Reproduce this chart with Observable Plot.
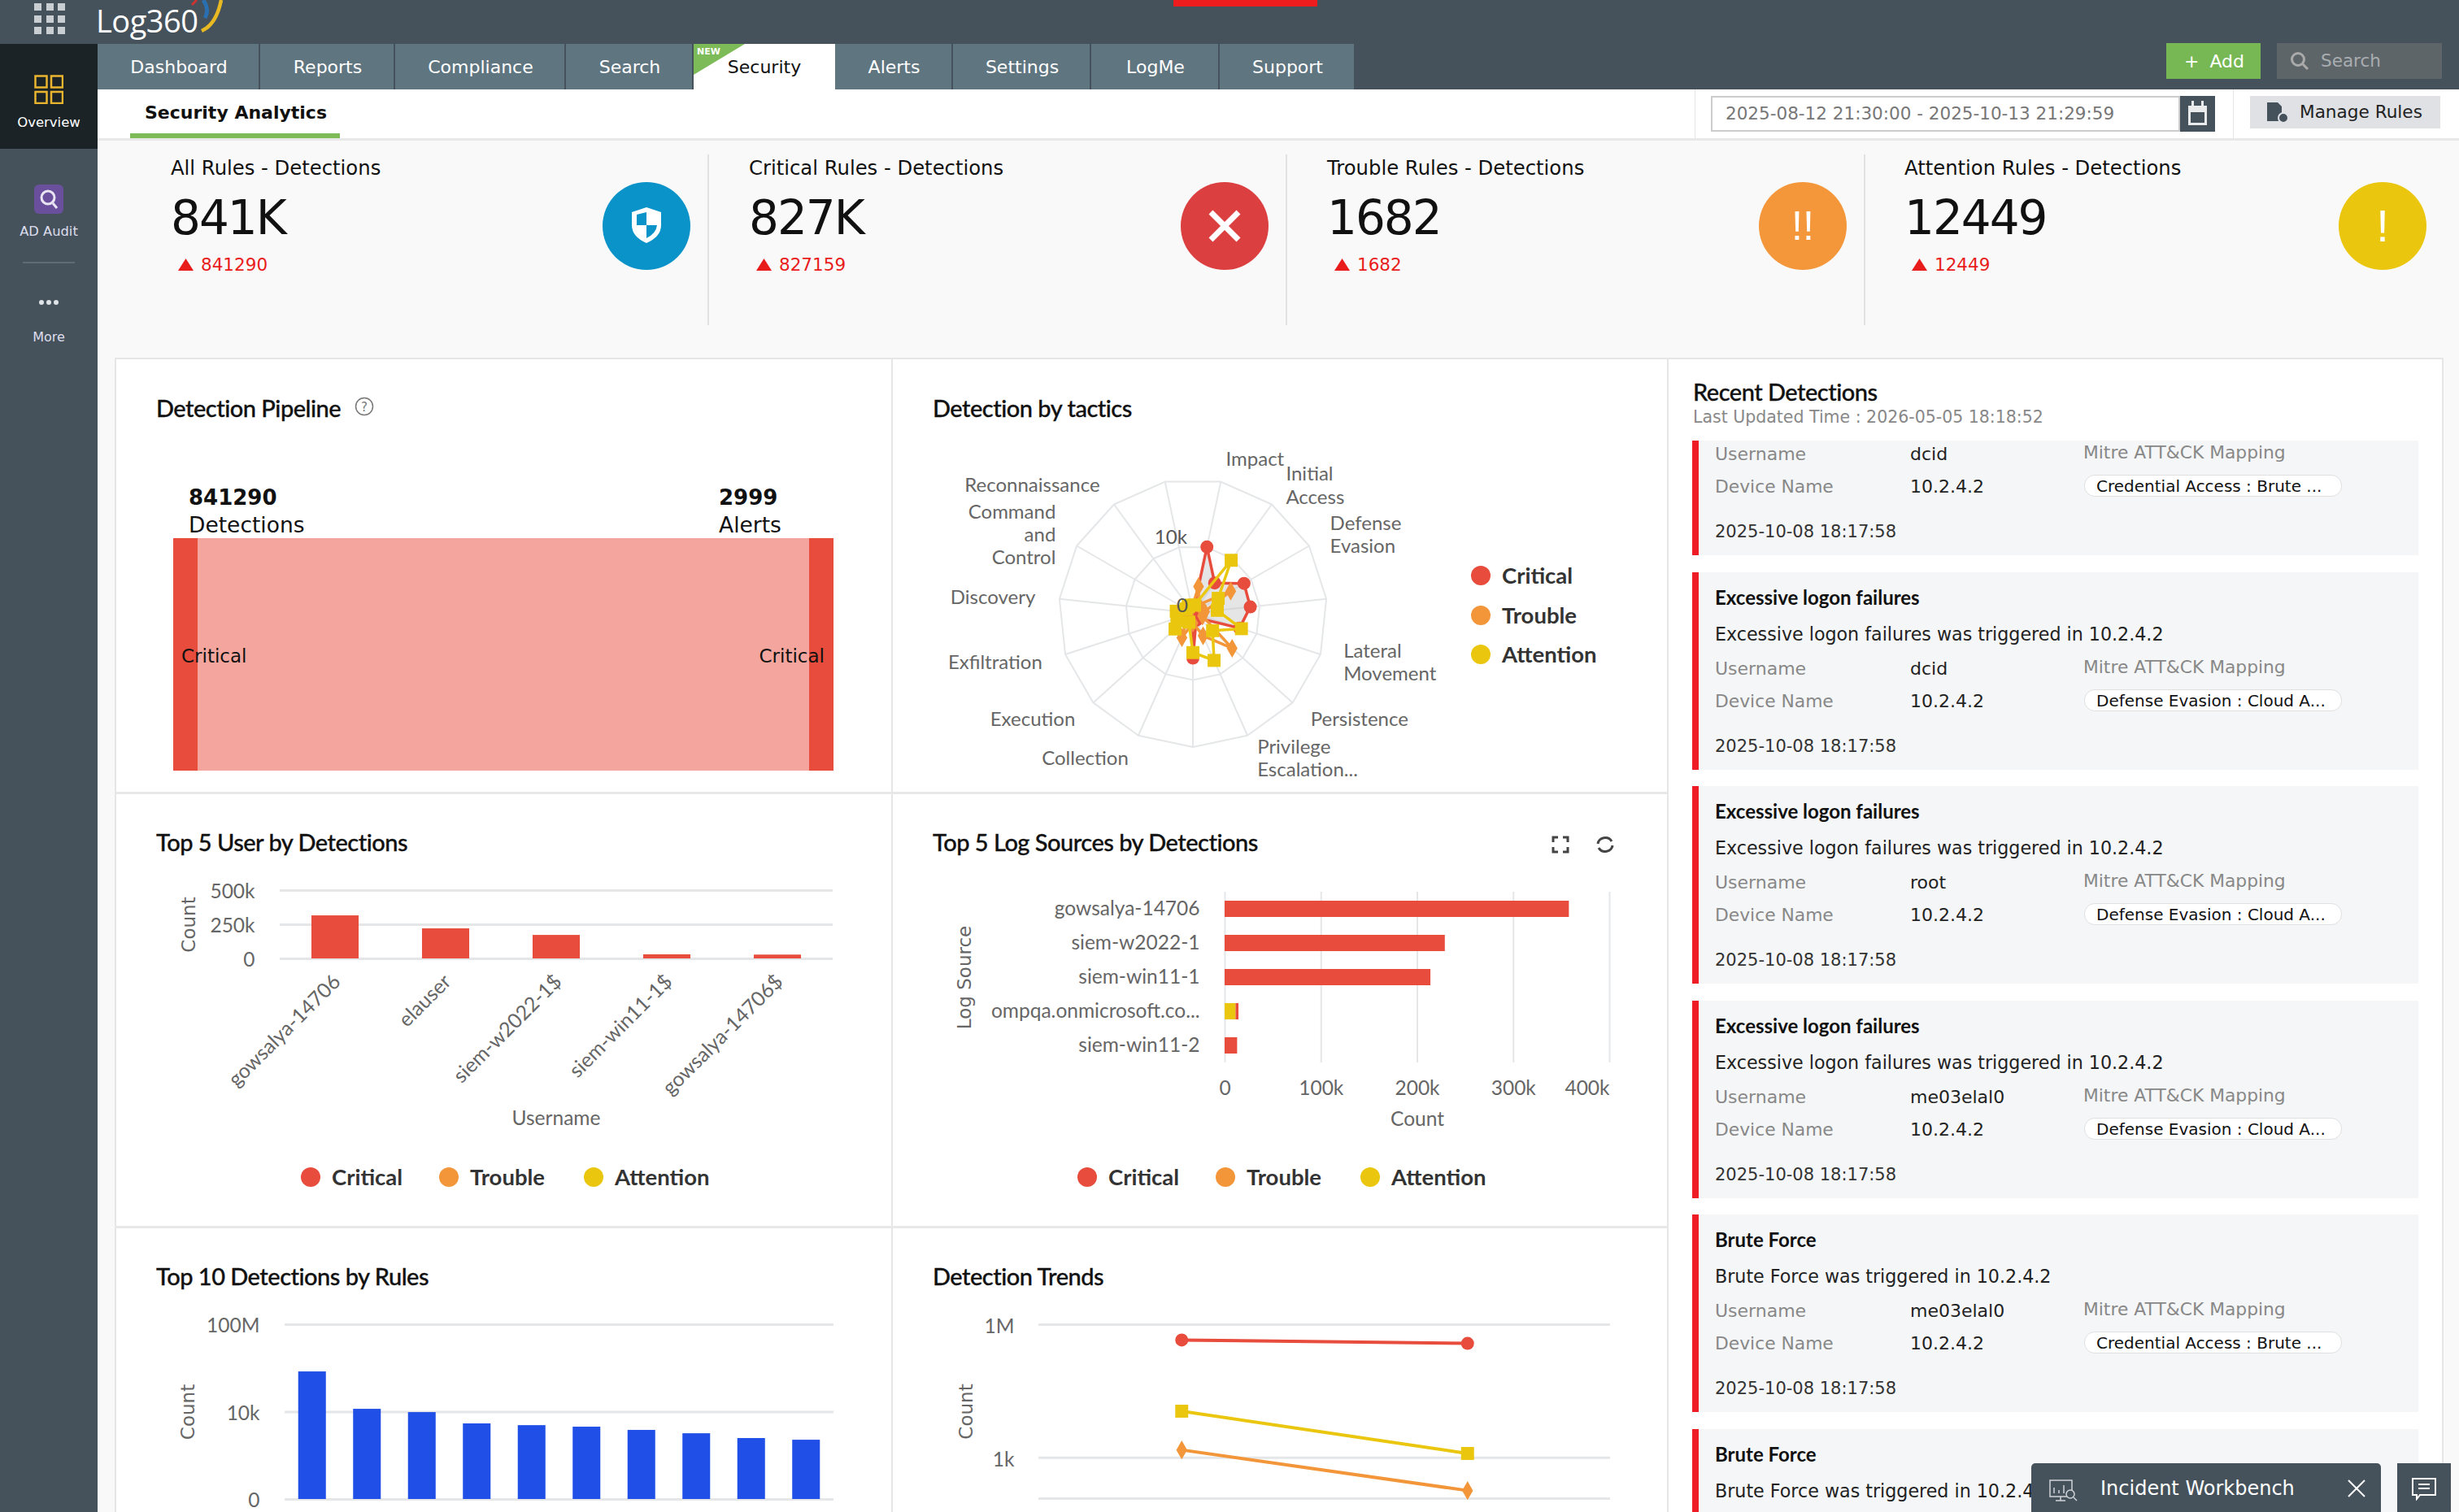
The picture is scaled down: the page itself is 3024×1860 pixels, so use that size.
<!DOCTYPE html>
<html><head><meta charset="utf-8">
<script src="https://cdn.jsdelivr.net/npm/d3@7"></script>
<script src="https://cdn.jsdelivr.net/npm/@observablehq/plot@0.6"></script>
<style>
html,body{margin:0;padding:0;background:#f9f9f9}
#page{position:relative;width:3024px;height:1860px;overflow:hidden;background:#f9f9f9;font-family:"DejaVu Sans",sans-serif}
#page>*{position:absolute}
.t{white-space:nowrap;transform:translateY(-50%);line-height:1}
.title{font-family:Lato,sans-serif;font-size:29px;font-weight:500;color:#111;letter-spacing:-.5px;-webkit-text-stroke:.3px #111}
.leg{font-family:Lato,sans-serif;font-size:27.5px;font-weight:700;color:#333}
svg{background:none}
</style></head><body><div id="page"></div>
<script>
// ---------- data ----------
const severities = ["Critical", "Trouble", "Attention"];
const severityColors = ["#e74c3c", "#f39539", "#eac70e"];

const pipelineStages = ["Detections", "Alerts"];
const pipelineCounts = [841290, 2999];

const tacticLabels = ["Impact", "Initial\nAccess", "Defense\nEvasion", "", "Lateral\nMovement", "Persistence", "Privilege\nEscalation...", "", "Collection", "Execution", "Exfiltration", "Discovery", "Command\nand\nControl", "Reconnaissance", ""];
const tacticCritical = [10500, 160, 3300, 2750, 840, 2, 2, 490, 0, 0, 0, 0, 0, 0, 0];
const tacticTrouble = [40, 3, 400, 4, 3, 1400, 30, 3, 40, 2, 1, 1, 1, 1, 1];
const tacticAttention = [2, 7600, 54, 28, 1100, 37, 1260, 230, 3, 26, 9, 9, 2, 2, 2];
const radarRings = [10000, 100000000];

const users = ["gowsalya-14706", "elauser", "siem-w2022-1$", "siem-win11-1$", "gowsalya-14706$"];
const userCritical = [315000, 220000, 172000, 30000, 28000];

const logSources = ["gowsalya-14706", "siem-w2022-1", "siem-win11-1", "ompqa.onmicrosoft.co...", "siem-win11-2"];
const sourceCritical = [358000, 229000, 214000, 3000, 13000];
const sourceAttention = [0, 0, 0, 11400, 0];

const ruleRanks = ["Rule 1", "Rule 2", "Rule 3", "Rule 4", "Rule 5", "Rule 6", "Rule 7", "Rule 8", "Rule 9", "Rule 10"];
const ruleCounts = [690000, 13400, 9500, 2880, 2400, 2040, 1450, 1020, 615, 515];

const trendDates = ["2025-09", "2025-10"];
const trendCritical = [450000, 377159];
const trendTrouble = [1500, 182];
const trendAttention = [11200, 1249];

const kpiTitles = ["All Rules - Detections", "Critical Rules - Detections", "Trouble Rules - Detections", "Attention Rules - Detections"];
const kpiBig = ["841K", "827K", "1682", "12449"];
const kpiSmall = ["841290", "827159", "1682", "12449"];
const tabs = ["Dashboard", "Reports", "Compliance", "Search", "Security", "Alerts", "Settings", "LogMe", "Support"];

const cardTitles = ["", "Excessive logon failures", "Excessive logon failures", "Excessive logon failures", "Brute Force", "Brute Force"];
const cardUsers = ["dcid", "dcid", "root", "me03elal0", "me03elal0", ""];
const cardPills = ["Credential Access : Brute ...", "Defense Evasion : Cloud A...", "Defense Evasion : Cloud A...", "Defense Evasion : Cloud A...", "Credential Access : Brute ...", ""];

// ---------- helpers ----------
const page = document.getElementById("page");
function box(x, y, w, h, style = "", html = "") {
  const d = document.createElement("div");
  d.style.cssText = `left:${x}px;top:${y}px;width:${w}px;height:${h}px;${style}`;
  d.innerHTML = html;
  page.appendChild(d);
  return d;
}
function txt(x, y, s, style = "", cls = "t") {
  const d = document.createElement("div");
  d.className = cls.includes("t") ? cls + " t" : "t " + cls;
  d.style.cssText = `left:${x}px;top:${y}px;${style}`;
  d.textContent = s;
  page.appendChild(d);
  return d;
}
function place(svg, x, y) {
  svg.style.position = "absolute";
  svg.style.left = x + "px";
  svg.style.top = y + "px";
  svg.style.overflow = "visible";
  svg.style.maxWidth = "none";
  page.appendChild(svg);
}
const FONT = "Lato, sans-serif";
const GRID = "#e4e6e8";
const TICK = "#666";
const base = {style: {background: "none", fontFamily: FONT, fontSize: "24.5px", overflow: "visible"}};
function sideLabel(s, dx) {
  return Plot.text([s], {frameAnchor: "left", textAnchor: "middle", rotate: -90, dx, text: d => d, fontFamily: "DejaVu Sans", fontSize: 23, fill: "#666"});
}

// ---------- chrome ----------
box(0, 0, 3024, 110, "background:#46525b");
box(0, 0, 120, 1860, "background:#46525b");
box(0, 54, 120, 129, "background:#1c2327");
box(1443, 0, 177, 8, "background:#ee1c1c");

// waffle
[0, 1, 2].forEach(r => [0, 1, 2].forEach(c => box(42 + c * 14.5, 4 + r * 14.5, 9, 9, "background:#c9ced2")));
txt(118, 25, "Log360", "font-family:'Open Sans';font-size:38px;color:#fff;letter-spacing:-.5px");
box(212, 0, 64, 42, "", `<svg width="64" height="42" style="overflow:visible"><path d="M38 0 Q46 12 40 22" stroke="#2a6fb0" stroke-width="5" fill="none"/><path d="M24 6 L30 0" stroke="#c33" stroke-width="3"/><path d="M36 38 Q54 30 60 0" stroke="#e8b923" stroke-width="4.5" fill="none"/></svg>`);

// tabs
const tabEdges = [120, 320, 486, 696, 853, 1027, 1172, 1342, 1500, 1667];
tabs.forEach((name, i) => {
  const active = name === "Security";
  box(tabEdges[i], 54, tabEdges[i + 1] - tabEdges[i] - (active ? 0 : 2), 56, `background:${active ? "#fff" : "#5f7580"}`);
  const cx = (tabEdges[i] + tabEdges[i + 1]) / 2;
  const d = txt(cx, 83, name, `font-size:22px;color:${active ? "#111" : "#fff"}`);
  d.style.transform = "translate(-50%,-50%)";
});
box(853, 54, 63, 38, "background:#7cbb57;clip-path:polygon(0 0,100% 0,0 100%)");
txt(857, 63, "NEW", "font-size:11px;font-weight:700;color:#fff");

box(2664, 53, 116, 44, "background:#78b854");
txt(2686, 76, "+ Add", "font-size:22px;color:#fff;word-spacing:6px");
box(2800, 53, 203, 44, "background:#5d6569");
box(2816, 63, 24, 24, "", `<svg width="24" height="24"><circle cx="10" cy="10" r="7.5" fill="none" stroke="#aaa" stroke-width="3"/><path d="M15 15 L22 22" stroke="#aaa" stroke-width="3"/></svg>`);
txt(2854, 75, "Search", "font-size:21.5px;color:#a9adb0");

// sidebar
box(42, 92, 36, 36, "", `<svg width="36" height="36" fill="none" stroke="#e9b52f" stroke-width="2.5"><rect x="1.5" y="1.5" width="14" height="14"/><rect x="21" y="1.5" width="14" height="14"/><rect x="1.5" y="21" width="14" height="14"/><rect x="21" y="21" width="14" height="14"/></svg>`);
let s = txt(60, 151, "Overview", "font-size:16.5px;color:#fff"); s.style.transform = "translate(-50%,-50%)";
box(42, 227, 36, 36, "background:#6a4f9c;border-radius:6px", `<svg width="36" height="36" fill="none" stroke="#e8e4f2" stroke-width="3"><circle cx="17" cy="16" r="8"/><path d="M23 23 L28 29"/></svg>`);
s = txt(60, 285, "AD Audit", "font-size:16.3px;color:#dde"); s.style.transform = "translate(-50%,-50%)";
box(28, 322, 64, 2, "background:#5f6a72");
[0, 1, 2].forEach(i => box(48 + i * 9, 369, 6, 6, "background:#dfe3e6;border-radius:50%"));
s = txt(60, 415, "More", "font-size:16px;color:#dde"); s.style.transform = "translate(-50%,-50%)";

// sub bar
box(120, 110, 2904, 60, "background:#fff");
box(120, 170, 2904, 3, "background:#e8e8e8");
txt(178, 139, "Security Analytics", "font-size:22px;font-weight:700;color:#111");
box(160, 164, 258, 6, "background:#7cbb57");
box(2084, 110, 1, 60, "background:#e6e6e6");
box(2746, 110, 1, 60, "background:#e6e6e6");
box(2104, 118, 577, 44, "background:#fff;box-sizing:border-box;border:2px solid #ccc");
txt(2122, 140, "2025-08-12 21:30:00 - 2025-10-13 21:29:59", "font-size:21.5px;color:#777");
box(2681, 118, 43, 44, "background:#46525b", `<svg width="43" height="44"><rect x="10" y="12" width="23" height="24" fill="#e8eaec"/><rect x="13" y="20" width="17" height="13" fill="#46525b"/><rect x="14" y="6" width="3" height="9" fill="#e8eaec"/><rect x="26" y="6" width="3" height="9" fill="#e8eaec"/></svg>`);
box(2767, 118, 234, 40, "background:#dfe1e4");
box(2788, 126, 28, 26, "", `<svg width="28" height="26"><path d="M0 0H13L18 5V23H0Z" fill="#46525b"/><circle cx="20" cy="19" r="6" fill="#46525b" stroke="#dfe1e4" stroke-width="2"/></svg>`);
txt(2828, 138, "Manage Rules", "font-size:21.6px;color:#222");

// KPI row
const kpiX = [210, 921, 1632, 2342], kpiC = [795, 1506, 2217, 2930];
const kpiFill = ["#0a93c9", "#dc3f3f", "#f4973b", "#ebc60f"];
[870, 1581, 2292].forEach(x => box(x, 190, 2, 210, "background:#e2e2e2"));
kpiTitles.forEach((k, i) => {
  txt(kpiX[i], 207, k, "font-size:24.3px;color:#111");
  txt(kpiX[i], 268, kpiBig[i], "font-size:58px;color:#111;letter-spacing:-2px");
  box(kpiX[i] + 9, 318, 19, 15, "background:#e91c1c;clip-path:polygon(50% 0,100% 100%,0 100%)");
  txt(kpiX[i] + 37, 326, kpiSmall[i], "font-size:21.5px;color:#e91c1c");
  box(kpiC[i] - 54, 224, 108, 108, `background:${kpiFill[i]};border-radius:50%`);
});
box(795 - 18, 255, 36, 44, "", `<svg width="36" height="44"><path d="M18 0 L36 6 V22 Q36 36 18 44 Q0 36 0 22 V6Z" fill="#fff"/><path d="M18 6V22H6V9Z M18 22H31Q30 32 18 38Z" fill="#0a93c9"/></svg>`);
box(1506 - 20, 258, 40, 40, "", `<svg width="40" height="40"><path d="M3 3 L37 37 M37 3 L3 37" stroke="#fff" stroke-width="7"/></svg>`);
s = txt(2217, 278, "!!", "font-size:50px;color:#fff;font-family:'Liberation Sans'"); s.style.transform = "translate(-50%,-50%)";
s = txt(2930, 278, "!", "font-size:56px;color:#fff;font-family:'Liberation Sans'"); s.style.transform = "translate(-50%,-50%)";

// panels
box(141, 440, 2864, 1430, "background:#fff;box-sizing:border-box;border:2px solid #e6e6e6");
box(1096, 440, 2, 1420, "background:#e6e6e6");
box(2050, 440, 2, 1420, "background:#e6e6e6");
box(141, 974, 1910, 3, "background:#e8e8e8");
box(141, 1508, 1910, 3, "background:#e8e8e8");

[["Detection Pipeline", 192, 501], ["Detection by tactics", 1147, 501], ["Top 5 User by Detections", 192, 1035], ["Top 5 Log Sources by Detections", 1147, 1035], ["Top 10 Detections by Rules", 192, 1569], ["Detection Trends", 1147, 1569], ["Recent Detections", 2082, 481]]
  .forEach(([a, x, y]) => txt(x, y, a, "", "title"));
box(436, 488, 24, 24, "", `<svg width="24" height="24"><circle cx="12" cy="12" r="10.5" fill="none" stroke="#777" stroke-width="1.5"/><text x="12" y="17.5" font-size="15" text-anchor="middle" fill="#777">?</text></svg>`);
box(1908, 1028, 22, 22, "", `<svg width="22" height="22" fill="none" stroke="#444" stroke-width="3"><path d="M2 8V2H8M14 2H20V8M20 14V20H14M8 20H2V14"/></svg>`);
box(1962, 1028, 24, 22, "", `<svg width="24" height="22" fill="none" stroke="#444" stroke-width="3"><path d="M3 10A9 8 0 0 1 20 7M21 12A9 8 0 0 1 4 15"/></svg>`);

function legend(xs, y) {
  severities.forEach((name, i) => {
    box(xs[i] - 12, y - 12, 24, 24, `background:${severityColors[i]};border-radius:50%`);
    txt(xs[i] + 26, y, name, "", "leg");
  });
}
legend([382, 552, 730], 1448);
legend([1337, 1507, 1685], 1448);
severities.forEach((name, i) => {
  box(1809, 708 + i * 48.5 - 12, 24, 24, `background:${severityColors[i]};border-radius:50%`);
  txt(1847, 708 + i * 48.5, name, "", "leg");
});

// Recent detections
txt(2082, 513, "Last Updated Time : 2026-05-05 18:18:52", "font-size:20.5px;color:#888");
const clip = box(2060, 542, 930, 1318, "overflow:hidden");
function clipTxt(x, y, s, style) {
  const d = document.createElement("div");
  d.className = "t";
  d.style.cssText = `position:absolute;left:${x - 2060}px;top:${y - 542}px;${style}`;
  d.textContent = s;
  clip.appendChild(d);
}
cardTitles.forEach((title, i) => {
  const top = 440 + i * 263.5;
  const card = document.createElement("div");
  card.style.cssText = `position:absolute;left:21px;top:${Math.max(top, 542) - 542}px;width:885px;height:${top + 243 - Math.max(top, 542)}px;background:#f5f6f7;border-left:8px solid #ee1c24`;
  clip.appendChild(card);
  if (title) {
    clipTxt(2109, top + 31, title, "font-family:Lato;font-size:24px;font-weight:700;color:#111");
    clipTxt(2109, top + 76, `${title} was triggered in 10.2.4.2`, "font-size:22.2px;color:#222");
  }
  if (cardUsers[i]) {
    clipTxt(2109, top + 119, "Username", "font-size:22px;color:#888");
    clipTxt(2349, top + 119, cardUsers[i], "font-size:22px;color:#222");
    clipTxt(2562, top + 117, "Mitre ATT&CK Mapping", "font-size:21.8px;color:#888");
    clipTxt(2109, top + 159, "Device Name", "font-size:21.8px;color:#888");
    clipTxt(2349, top + 159, "10.2.4.2", "font-size:22px;color:#222");
    const pill = document.createElement("div");
    pill.style.cssText = `position:absolute;left:${2563 - 2060}px;top:${top + 144 - 542}px;width:317px;height:27px;background:#fff;border:1px solid #e0e0e0;border-radius:13px;box-sizing:border-box`;
    clip.appendChild(pill);
    clipTxt(2578, top + 158, cardPills[i], "font-size:20px;color:#111");
    clipTxt(2109, top + 214, "2025-10-08 18:17:58", "font-size:21px;color:#333");
  }
});

// ---------- pipeline ----------
const flow = pipelineStages.map((stage, i) => ({stage, pos: i, count: pipelineCounts[i], share: 1}));
const pipelineText = {y: () => 0.5, text: () => "Critical", fontSize: 23, fill: "#111", fontFamily: "DejaVu Sans", dy: 2};
place(Plot.plot({
  ...base, width: 900, height: 380, marginLeft: 55.5, marginRight: 62.5, marginTop: 72, marginBottom: 22,
  x: {domain: [0, 1], axis: null}, y: {domain: [0, 1], axis: null},
  marks: [
    Plot.rect([flow[0]], {x1: () => 0, x2: () => 1, y1: () => 0, y2: "share", fill: "#f4a69e"}),
    Plot.ruleX(flow, {x: "pos", y1: () => 0, y2: "share", stroke: "#e74c3c", strokeWidth: 30}),
    Plot.text([flow[0]], {x: "pos", ...pipelineText, textAnchor: "start", dx: -5}),
    Plot.text([flow[1]], {x: "pos", ...pipelineText, textAnchor: "end", dx: 4}),
  ]
}), 171.5, 590);
// Pipeline stage captions
flow.forEach((f, i) => {
  const x = i ? 884 : 232;
  txt(x, 612, String(f.count), "font-size:26px;font-weight:700;color:#111");
  txt(x, 646, f.stage, "font-size:26.5px;color:#111");
});

// ---------- radar ----------
const radial = v => Math.log10(1 + v) / 8;
const angle = i => (12 + i * 24) * Math.PI / 180;
const polar = (i, v) => ({x: radial(v) * Math.sin(angle(i)), y: radial(v) * Math.cos(angle(i))});
const closeLoop = a => [...a, a[0]];
const ringRows = radarRings.flatMap(v => closeLoop(tacticLabels.map((_, i) => ({...polar(i, v), ring: v}))));
const spokeRows = tacticLabels.map((_, i) => ({...polar(i, radarRings[1])}));
const seriesRows = [tacticCritical, tacticTrouble, tacticAttention].map(vals => vals.map((v, i) => polar(i, v)));
const labelRows = tacticLabels.map((label, i) => ({label, x: 1.18 * Math.sin(angle(i)), y: 1.18 * Math.cos(angle(i))})).filter(d => d.label);
const symbols = ["circle", "diamond", "square"], symbolR = [8, 7, 9];
const labelOpts = {x: "x", y: "y", text: "label", fill: "#666", fontSize: 24, lineHeight: 1.17};
place(Plot.plot({
  ...base, width: 627, height: 479, margin: 0,
  x: {domain: [-1.9, 1.9], axis: null}, y: {domain: [-1.4515, 1.4515], axis: null},
  marks: [
    Plot.line(ringRows, {x: "x", y: "y", z: "ring", stroke: GRID, strokeWidth: 2}),
    Plot.link(spokeRows, {x1: () => 0, y1: () => 0, x2: "x", y2: "y", stroke: GRID, strokeWidth: 2}),
    Plot.area(closeLoop(seriesRows[0]), {x1: "x", y1: "y", x2: () => 0, y2: () => 0, fill: "#bdbdbd", fillOpacity: 0.4, curve: "linear"}),
    ...[0, 1, 2].flatMap(k => [
      Plot.line(closeLoop(seriesRows[k]), {x: "x", y: "y", stroke: severityColors[k], strokeWidth: 3.5}),
      Plot.dot(seriesRows[k], {x: "x", y: "y", symbol: symbols[k], r: symbolR[k], fill: severityColors[k]}),
    ]),
    Plot.text(labelRows.filter(d => d.x > 0), {...labelOpts, textAnchor: "start"}),
    Plot.text(labelRows.filter(d => d.x < 0), {...labelOpts, textAnchor: "end"}),
    Plot.text(["10k"], {x: () => -0.104, y: () => 0.489, text: d => d, textAnchor: "end", dx: 10, dy: -12, fill: "#555", fontSize: 24}),
    Plot.text(["0"], {x: () => 0, y: () => 0, text: d => d, textAnchor: "end", dx: -6, dy: -9, fill: "#555", fontSize: 24}),
  ]
}), 1466 - 313.5, 753 - 239.5);

// ---------- top 5 users ----------
const fmtK = d => d === 0 ? "0" : d >= 1e6 ? d / 1e6 + "M" : d / 1e3 + "k";
place(Plot.plot({
  ...base, width: 860, height: 340, marginLeft: 144, marginRight: 36, marginTop: 35, marginBottom: 221,
  x: {domain: users, paddingInner: 0.573, paddingOuter: 0.2865, round: false}, y: {domain: [0, 500000]},
  marks: [
    Plot.ruleY([0, 250000, 500000], {stroke: GRID, strokeWidth: 3}),
    Plot.barY(users.map((u, i) => ({u, v: userCritical[i]})), {x: "u", y: "v", fill: severityColors[0]}),
    Plot.axisY({ticks: [0, 250000, 500000], tickFormat: fmtK, tickSize: 0, tickPadding: 31, label: null, color: TICK, dy: 2}),
    Plot.axisX({tickSize: 0, tickRotate: -45, tickPadding: 24, label: null, color: TICK, dx: 2, fontSize: 25}),
    sideLabel("Count", -112),
  ]
}), 200, 1060);
s = txt(684, 1375, "Username", `font-family:${FONT};font-size:24.5px;color:#666`); s.style.transform = "translate(-50%,-50%)";

// ---------- top 5 log sources ----------
const sourceRows = [
  ...logSources.map((source, i) => ({source, severity: "Attention", v: sourceAttention[i]})),
  ...logSources.map((source, i) => ({source, severity: "Critical", v: sourceCritical[i]})),
];
place(Plot.plot({
  ...base, width: 900, height: 290, marginLeft: 356, marginRight: 71, marginTop: 47, marginBottom: 33,
  x: {domain: [0, 400000]}, y: {domain: logSources, paddingInner: 0.524, paddingOuter: 0.262, round: false},
  color: {domain: severities, range: severityColors},
  marks: [
    Plot.ruleX([0, 100000, 200000, 300000, 400000], {stroke: GRID, strokeWidth: 2}),
    Plot.barX(sourceRows, {x: "v", y: "source", fill: "severity", order: null}),
    Plot.axisY({tickSize: 0, tickPadding: 31, label: null, color: TICK}),
    Plot.axisX({ticks: [0, 100000, 200000, 300000], tickFormat: fmtK, tickSize: 0, tickPadding: 22, label: null, color: TICK}),
    Plot.axisX({ticks: [400000], tickFormat: fmtK, tickSize: 0, tickPadding: 22, label: null, color: TICK, textAnchor: "end"}),
    sideLabel("Log Source", -320),
  ]
}), 1150, 1050);
s = txt(1743, 1376, "Count", `font-family:${FONT};font-size:24.5px;color:#666`); s.style.transform = "translate(-50%,-50%)";

// ---------- top 10 rules ----------
place(Plot.plot({
  ...base, width: 860, height: 270, marginLeft: 140, marginRight: 45, marginTop: 29, marginBottom: 26,
  x: {domain: ruleRanks, paddingInner: 0.496, paddingOuter: 0.248, round: false, axis: null},
  y: {type: "symlog", constant: 1, domain: [0, 100000000]},
  marks: [
    Plot.ruleY([0, 10000, 100000000], {stroke: GRID, strokeWidth: 3}),
    Plot.barY(ruleRanks.map((r, i) => ({r, v: ruleCounts[i]})), {x: "r", y: "v", fill: "#204fe8"}),
    Plot.axisY({ticks: [0, 10000, 100000000], tickFormat: fmtK, tickSize: 0, tickPadding: 31, label: null, color: TICK, dy: 2}),
    sideLabel("Count", -119),
  ]
}), 210, 1600);

// ---------- trends ----------
place(Plot.plot({
  ...base, width: 860, height: 270, marginLeft: 127, marginRight: 30, marginTop: 29, marginBottom: 27,
  x: {type: "point", domain: trendDates, padding: 0.5, axis: null, round: false},
  y: {type: "log", domain: [120, 1000000]},
  marks: [
    Plot.ruleY([120, 1000, 1000000], {stroke: GRID, strokeWidth: 3}),
    ...[trendCritical, trendTrouble, trendAttention].flatMap((vals, k) => {
      const rows = trendDates.map((d, i) => ({d, v: vals[i]}));
      return [
        Plot.line(rows, {x: "d", y: "v", stroke: severityColors[k], strokeWidth: 4}),
        Plot.dot(rows, {x: "d", y: "v", symbol: symbols[k], r: [8, 7, 9][k], fill: severityColors[k]}),
      ];
    }),
    Plot.axisY({ticks: [1000, 1000000], tickFormat: fmtK, tickSize: 0, tickPadding: 30, label: null, color: TICK, dy: 3}),
    sideLabel("Count", -89),
  ]
}), 1150, 1600);

// ---------- bottom widgets ----------
box(2498, 1800, 430, 60, "background:#46525b;border-radius:5px 5px 0 0");
box(2520, 1820, 36, 28, "", `<svg width="36" height="28" fill="none" stroke="#cfd4d8" stroke-width="1.5"><rect x="1" y="1" width="27" height="20"/><path d="M6 17V10M12 17V13M18 17V7M14 21V26M8 26H20"/><circle cx="26" cy="18" r="5" fill="#46525b"/><path d="M30 22L34 26"/></svg>`);
txt(2583, 1831, "Incident Workbench", "font-size:24px;color:#fff");
box(2887, 1820, 22, 22, "", `<svg width="22" height="22"><path d="M1 1L21 21M21 1L1 21" stroke="#fff" stroke-width="2"/></svg>`);
box(2948, 1800, 66, 60, "background:#46525b");
box(2966, 1818, 30, 28, "", `<svg width="30" height="28" fill="none" stroke="#fff" stroke-width="2"><path d="M1 1H29V21H10L6 26V21H1Z"/><path d="M8 8H22M8 13H22"/></svg>`);
</script></body></html>
